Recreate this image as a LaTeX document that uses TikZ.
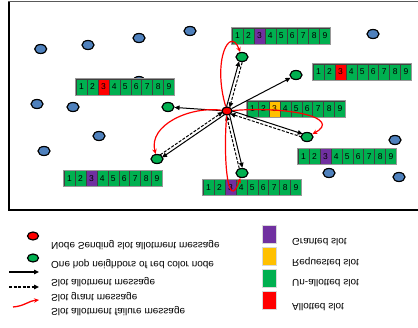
\documentclass[tikz,border=0pt]{standalone}
\usepackage{fontspec}
\setmainfont{Liberation Sans}
\usepackage{graphicx}
\usetikzlibrary{arrows.meta,calc,shapes.geometric}
\definecolor{nblue}{HTML}{4F81BD}
\definecolor{ngreen}{HTML}{00B050}
\definecolor{npurple}{HTML}{7030A0}
\definecolor{nyellow}{HTML}{FFC000}
\definecolor{nred}{HTML}{FF0000}
\pgfdeclarelayer{bglayer}
\pgfdeclarelayer{midlayer}
\pgfsetlayers{bglayer,midlayer,main}
\newcommand\flipv[1]{\scalebox{1}[-1]{#1}}
\newcommand\slotbar[4]{%
  \foreach \i in {1,...,9}{%
    \ifnum\i=3 \def\cc{#4}\else\def\cc{ngreen}\fi
    \node[cell,fill=\cc] (#1-\i) at (#2+\i*10.95-5.475,#3) {\i};
  }%
  \draw[barframe] (#1-1.north west) rectangle (#1-9.south east);
}
\tikzset{
  cell/.style={rectangle, draw=black!75, line width=0.5pt, minimum width=10.95pt,
    minimum height=16pt, inner sep=0pt, font=\fontsize{8.5}{9}\selectfont},
  barframe/.style={draw=gray!80, line width=0.8pt},
  bnode/.style={ellipse, draw=black, line width=1.2pt, fill=nblue,
    minimum width=12pt, minimum height=9pt, inner sep=0pt},
  gnode/.style={bnode, fill=ngreen},
  rnode/.style={bnode, fill=nred, minimum width=10pt, minimum height=8pt},
  msg/.style={-{Triangle[length=5pt,width=4.5pt]}, line width=1pt, black},
  grant/.style={msg, dash pattern=on 3pt off 1.5pt},
  fail/.style={-{Stealth[length=5pt,width=4.5pt]}, line width=1.2pt, nred},
  ltext/.style={anchor=west, inner sep=0pt, font=\fontsize{10}{12}\selectfont},
  lsq/.style={rectangle, draw=black!15, line width=0.4pt, minimum width=14pt,
    minimum height=18pt, inner sep=0pt}
}
\begin{document}
\begin{tikzpicture}[x=1pt,y=-1pt]
\useasboundingbox (0,0) rectangle (418,328);
% frame
\draw[black!65, line width=1pt] (8,2) -- (418,2);
\draw[black, line width=1.2pt] (9,2) -- (9,210) -- (418,210);

\begin{pgfonlayer}{bglayer}
% blue nodes
\node[bnode] (b1) at (40.7,49) {};
\node[bnode] (b2) at (88,45) {};
\node[bnode] (b3) at (139,38) {};
\node[bnode] (b4) at (190,31) {};
\node[bnode] (b5) at (373,34) {};
\node[bnode] (b6) at (37,104) {};
\node[bnode] (b7) at (73,107) {};
\node[bnode] (b8) at (99,136) {};
\node[bnode] (b9) at (44,151) {};
\node[bnode] (b10) at (395,140) {};
\node[bnode] (b11) at (329,173) {};
\node[bnode] (b12) at (399,177) {};
\node[bnode] (b13) at (139,81) {};
% slot bars
\slotbar{s1}{232}{36}{npurple}
\slotbar{s2}{313}{72}{nred}
\slotbar{s3}{76}{87}{nred}
\slotbar{s4}{247}{109}{nyellow}
\slotbar{s5}{298}{156.5}{npurple}
\slotbar{s6}{64}{178.5}{npurple}
\slotbar{s7}{203}{187.5}{npurple}
\end{pgfonlayer}

% red and green nodes
\node[rnode] (R) at (227,111) {};
\node[gnode] (G1) at (242,57) {};
\node[gnode] (G2) at (296,75) {};
\node[gnode] (G3) at (168,107) {};
\node[gnode] (G5) at (307,137) {};
\node[gnode] (G4) at (157,159) {};
\node[gnode] (G6) at (242,173) {};

\begin{pgfonlayer}{midlayer}
% single allotment messages
\draw[msg] (R) -- (G2);
\draw[msg] (R) -- (G3);
% allotment + grant pairs
\foreach \g in {G1,G4,G5,G6}{
  \draw[msg, shorten <=4pt, shorten >=5pt] ($(R)!1.6pt!90:(\g)$) -- ($(\g)!1.6pt!-90:(R)$);
  \draw[grant, shorten <=5pt, shorten >=4pt] ($(\g)!1.6pt!90:(R)$) -- ($(R)!1.6pt!-90:(\g)$);
}
% failure messages
\draw[fail] (R) .. controls (212,60) and (230,25) .. (G1);
\draw[fail] (R) .. controls (290,106) and (342,118) .. (G5);
\draw[fail] (R) .. controls (190,106) and (148,125) .. (G4);
\draw[fail] (R) .. controls (223,160) and (228,214) .. (G6);
\end{pgfonlayer}

% legend left
\node[rnode, minimum width=11pt] (LR) at (33,236) {};
\node[gnode, minimum width=11pt, minimum height=8pt] (LG) at (33,258) {};
\coordinate (A1) at (9,272); \coordinate (A2) at (39,272);
\draw[msg, line width=1.3pt] (A1) -- (A2);
\coordinate (B1) at (9,287); \coordinate (B2) at (39,287);
\draw[grant, line width=1.3pt] (B1) -- (B2);
\coordinate (C1) at (13,307); \coordinate (C2) at (39,300);
\draw[fail, line width=1.3pt] (C1) .. controls (25,306) and (28,301) .. (C2);
\node[ltext] (t1) at (51,245.5) {\flipv{Node Sending slot allotment message}};
\node[ltext] (t2) at (51,264.5) {\flipv{One hop neighbors of red color node}};
\node[ltext] (t3) at (51,282.5) {\flipv{Slot allotment message}};
\node[ltext] (t4) at (51,297.5) {\flipv{Slot grant message}};
\node[ltext] (t5) at (51,311.5) {\flipv{Slot allotment failure message}};

% legend right
\node[lsq, fill=npurple] (q1) at (269,234) {};
\node[lsq, fill=nyellow] (q2) at (269,256) {};
\node[lsq, fill=ngreen] (q3) at (269,278) {};
\node[lsq, fill=nred] (q4) at (269,300) {};
\node[ltext] (u1) at (292,242.5) {\flipv{Granted slot}};
\node[ltext] (u2) at (292,262) {\flipv{Requested slot}};
\node[ltext] (u3) at (292,283) {\flipv{Un-allotted slot}};
\node[ltext] (u4) at (292,307.5) {\flipv{Allotted slot}};
\end{tikzpicture}
\end{document}
